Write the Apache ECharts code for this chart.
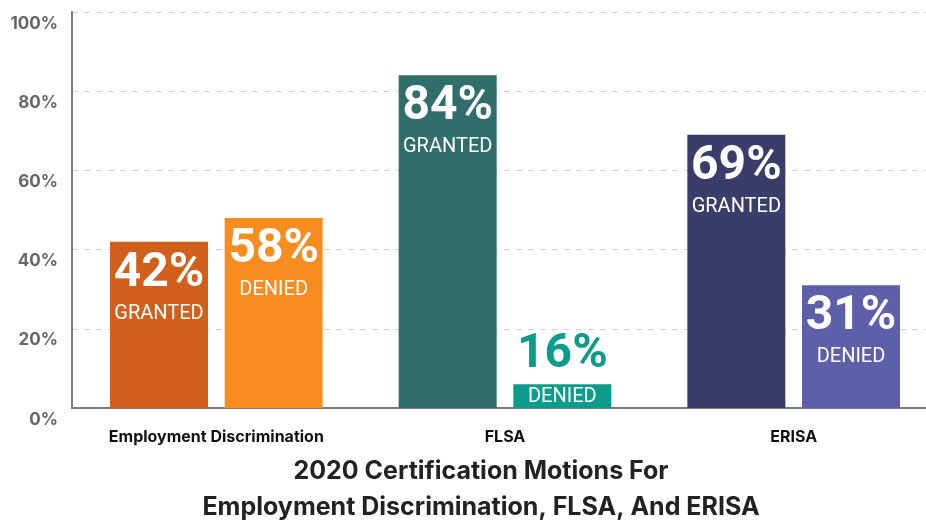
<!DOCTYPE html>
<html>
<head>
<meta charset="utf-8">
<title>2020 Certification Motions</title>
<script src="https://cdn.jsdelivr.net/npm/echarts@6/dist/echarts.min.js"></script>
<style>
  html, body { margin: 0; padding: 0; background: #fff; }
  #main { width: 926px; height: 520px; }
</style>
</head>
<body>
<div id="main"></div>
<script>
// categories
var categories = ['Employment Discrimination', 'FLSA', 'ERISA'];
// percentages printed on the bars
var grantedPct = [42, 84, 69];
var deniedPct = [58, 16, 31];
// bar heights as drawn in the picture (the denied bars are not drawn to scale)
var grantedBars = [42, 84, 69];
var deniedBars = [48, 6, 31];
// y axis ticks
var yTicks = [0, 20, 40, 60, 80, 100];

var grantedColors = ['#d0601b', '#2f6e6a', '#3a3d6a'];
var deniedColors = ['#f78d20', '#0b9c8c', '#5d60a8'];

var myChart = echarts.init(document.getElementById('main'));

function barLabel(pcts, word, small) {
    return function (p) {
        var i = p.dataIndex;
        if (small[i]) {
            return '{pctOut|' + pcts[i] + '%}\n{wordIn|' + word + '}';
        }
        return '{pct|' + pcts[i] + '%}\n{word|' + word + '}';
    };
}

var richStyle = {
    pct: { fontFamily: 'Roboto', fontWeight: 'bold', fontSize: 48, lineHeight: 54, color: '#fff' },
    word: { fontFamily: 'Roboto', fontSize: 20, lineHeight: 26, color: '#fff' },
    pctOut: { fontFamily: 'Roboto', fontWeight: 'bold', fontSize: 48, lineHeight: 60, color: '#0b9c8c' },
    wordIn: { fontFamily: 'Roboto', fontSize: 20, lineHeight: 23, color: '#fff' }
};

// 16% bar is too short to hold its number
var deniedSmall = [false, true, false];
var grantedSmall = [false, false, false];

function items(vals, colors, small) {
    return vals.map(function (v, i) {
        var d = { value: v, itemStyle: { color: colors[i] } };
        if (small[i]) {
            d.label = { position: 'insideBottom', distance: 0 };
        }
        return d;
    });
}

var option = {
    animation: false,
    title: {
        text: '2020 Certification Motions For\nEmployment Discrimination, FLSA, And ERISA',
        left: 476,
        top: 448,
        textAlign: 'center',
        textStyle: {
            fontFamily: 'Inter',
            fontWeight: 'bold',
            fontSize: 25,
            lineHeight: 36,
            color: '#222'
        }
    },
    grid: { left: 72, right: -12, top: 12, bottom: 112, outerBoundsMode: 'none' },
    xAxis: {
        type: 'category',
        data: categories,
        axisLine: { lineStyle: { color: '#7a7a7a', width: 2 } },
        axisTick: { show: false },
        axisLabel: {
            margin: 21,
            fontFamily: 'Inter',
            fontWeight: 'bold',
            fontSize: 16,
            color: '#111'
        }
    },
    yAxis: {
        type: 'value',
        min: yTicks[0],
        max: yTicks[yTicks.length - 1],
        interval: 20,
        axisLine: { show: true, lineStyle: { color: '#7a7a7a', width: 2 } },
        axisTick: { show: false },
        splitLine: { lineStyle: { color: '#d2d2d2', type: [6, 6] } },
        axisLabel: {
            formatter: '{value}%',
            margin: 14,
            verticalAlign: 'top',
            padding: [3, 0, 0, 0],
            fontFamily: 'Inter',
            fontWeight: 'bold',
            fontSize: 17,
            color: '#666'
        }
    },
    series: [
        {
            name: 'Granted',
            type: 'bar',
            barWidth: 98,
            barGap: '17%',
            data: items(grantedBars, grantedColors, grantedSmall),
            label: {
                show: true,
                position: 'insideTop',
                distance: 5,
                formatter: barLabel(grantedPct, 'GRANTED', grantedSmall),
                rich: richStyle
            }
        },
        {
            name: 'Denied',
            type: 'bar',
            barWidth: 98,
            barGap: '17%',
            data: items(deniedBars, deniedColors, deniedSmall),
            label: {
                show: true,
                position: 'insideTop',
                distance: 5,
                formatter: barLabel(deniedPct, 'DENIED', deniedSmall),
                rich: richStyle
            }
        }
    ]
};

myChart.setOption(option);
</script>
</body>
</html>
